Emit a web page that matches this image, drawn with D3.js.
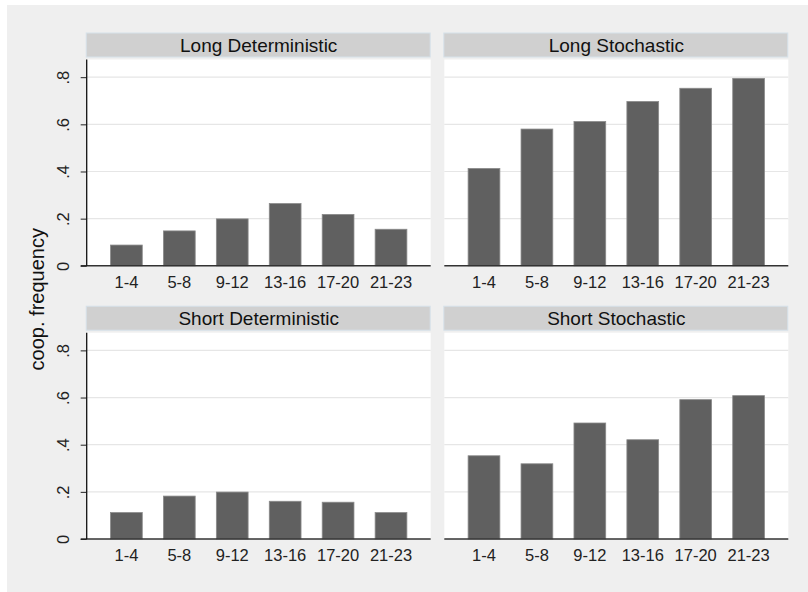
<!DOCTYPE html>
<html>
<head>
<meta charset="utf-8">
<script src="https://cdn.jsdelivr.net/npm/d3@7"></script>
<style>
  html, body { margin: 0; padding: 0; background: #ffffff; }
  svg { display: block; }
  text { font-family: "Liberation Sans", Arial, sans-serif; }
</style>
</head>
<body>
<svg id="chart" width="808" height="592"></svg>
<script>
// ---- data ----
const categories = ["1-4", "5-8", "9-12", "13-16", "17-20", "21-23"];
const panelTitles = ["Long Deterministic", "Long Stochastic", "Short Deterministic", "Short Stochastic"];
const longDeterministic = [0.088, 0.148, 0.199, 0.264, 0.218, 0.155];
const longStochastic = [0.413, 0.580, 0.612, 0.697, 0.753, 0.795];
const shortDeterministic = [0.112, 0.182, 0.199, 0.160, 0.156, 0.112];
const shortStochastic = [0.353, 0.319, 0.492, 0.421, 0.591, 0.608];
const yTickValues = [0, 0.2, 0.4, 0.6, 0.8];
const yTickLabels = ["0", ".2", ".4", ".6", ".8"];
const yAxisTitle = "coop. frequency";

const seriesList = [longDeterministic, longStochastic, shortDeterministic, shortStochastic];

// ---- layout ----
const svg = d3.select("#chart");
svg.append("rect").attr("x", 7).attr("y", 5).attr("width", 801).attr("height", 587).attr("fill", "#efefef");

const colX = [86.7, 444.3];
const rowY = [59.5, 332.7];
const plotW = 344;
const plotH = 206.3;
const headerH = 24;
const headerGap = 2.5;

const x = d3.scaleBand().domain(categories).range([0, plotW]).paddingInner(0.4).paddingOuter(0.45);
const y = d3.scaleLinear().domain([0, 0.875]).range([plotH, 0]);

seriesList.forEach((vals, i) => {
  const col = i % 2, row = Math.floor(i / 2);
  const g = svg.append("g").attr("transform", `translate(${colX[col]},${rowY[row]})`);

  // header strip
  g.append("rect")
    .attr("x", -0.5).attr("y", -headerH - headerGap)
    .attr("width", plotW).attr("height", headerH)
    .attr("fill", "#d0d0d0").attr("stroke", "#d6e2ea").attr("stroke-width", 1);
  g.append("text")
    .attr("x", plotW / 2).attr("y", -headerGap - headerH / 2)
    .attr("dy", "0.36em").attr("text-anchor", "middle")
    .attr("font-size", 19).attr("fill", "#111")
    .text(panelTitles[i]);

  // plot area
  g.append("rect").attr("x", 0).attr("y", 0).attr("width", plotW).attr("height", plotH).attr("fill", "#ffffff");

  // gridlines
  g.selectAll("line.grid").data(yTickValues.filter(v => v > 0)).enter().append("line")
    .attr("x1", 0).attr("x2", plotW)
    .attr("y1", d => y(d)).attr("y2", d => y(d))
    .attr("stroke", "#e6e6e6").attr("stroke-width", 1.2);

  // bars
  g.selectAll("rect.bar").data(vals).enter().append("rect")
    .attr("x", (d, j) => x(categories[j]))
    .attr("y", d => y(d))
    .attr("width", x.bandwidth())
    .attr("height", d => y(0) - y(d))
    .attr("fill", "#606060").attr("stroke", "#8a8a8a").attr("stroke-width", 0.8);

  // x axis
  const xAxis = d3.axisBottom(x).tickSize(0).tickPadding(10);
  const xg = g.append("g").attr("transform", `translate(0,${plotH})`).call(xAxis);
  xg.select(".domain").remove();
  xg.selectAll("text").attr("font-size", 16.5).attr("fill", "#222").attr("font-family", "Liberation Sans, Arial, sans-serif");
  g.append("line").attr("x1", col === 0 ? -6 : 0).attr("x2", plotW)
    .attr("y1", plotH).attr("y2", plotH).attr("stroke", "#333").attr("stroke-width", 1.5);

  // y axis (left column only)
  if (col === 0) {
    const yAxis = d3.axisLeft(y).tickValues(yTickValues).tickFormat((d, k) => yTickLabels[k]).tickSize(6).tickPadding(4);
    const yg = g.append("g").call(yAxis);
    yg.select(".domain").remove();
    yg.selectAll(".tick line").attr("stroke", "#222");
    yg.selectAll(".tick text")
      .attr("font-size", 16.5).attr("fill", "#222").attr("font-family", "Liberation Sans, Arial, sans-serif")
      .attr("text-anchor", "middle")
      .attr("x", -24).attr("y", 0).attr("dy", "0.36em")
      .attr("transform", "rotate(-90,-24,0)");
    g.append("line").attr("x1", 0).attr("x2", 0).attr("y1", 0).attr("y2", plotH)
      .attr("stroke", "#111").attr("stroke-width", 1.3);
  }
});

// y axis title
svg.append("text")
  .attr("transform", `translate(37,${(rowY[0] + rowY[1] + plotH) / 2}) rotate(-90)`)
  .attr("text-anchor", "middle").attr("dy", "0.36em")
  .attr("font-size", 20).attr("fill", "#111")
  .text(yAxisTitle);
</script>
</body>
</html>
